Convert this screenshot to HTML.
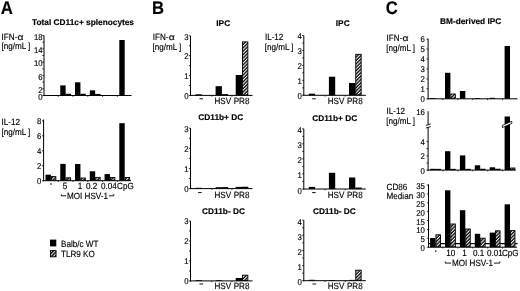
<!DOCTYPE html>
<html><head><meta charset="utf-8"><style>
html,body{margin:0;padding:0;background:#fff;width:520px;height:291px;overflow:hidden}
svg{display:block;filter:blur(0.3px)}
text{font-family:"Liberation Sans",sans-serif;fill:#000;stroke:#000;stroke-width:0.15px;text-rendering:geometricPrecision}
</style></head><body>
<svg width="520" height="291" viewBox="0 0 520 291">
<defs>
<pattern id="hatch" patternUnits="userSpaceOnUse" width="2.4" height="2.4" patternTransform="rotate(-45)">
<rect width="2.4" height="2.4" fill="#000"/><rect y="0" width="2.4" height="1.1" fill="#fff"/>
</pattern>
<pattern id="hatchL" patternUnits="userSpaceOnUse" width="2.5" height="2.5" patternTransform="translate(50.4 250.6) rotate(-45)">
<rect width="2.5" height="2.5" fill="#000"/><rect y="0.6" width="2.5" height="1.0" fill="#fff"/>
</pattern>
</defs>
<rect width="520" height="291" fill="#fff"/>
<text transform="translate(0.70 13.70) scale(0.92 1)" font-size="18.3" font-weight="bold">A</text>
<text transform="translate(151.90 13.70) scale(0.91 1)" font-size="18.3" font-weight="bold">B</text>
<text transform="translate(385.70 13.70) scale(0.91 1)" font-size="18.3" font-weight="bold">C</text>
<text x="32.00" y="24.60" font-size="8.3" font-weight="bold">Total CD11c+ splenocytes</text>
<text transform="translate(1.60 39.80) scale(0.9 1)" font-size="9.0">IFN-</text>
<text transform="translate(17.45 39.80) scale(1.2 1)" font-size="8.64">α</text>
<text transform="translate(1.50 49.40) scale(0.9 1)" font-size="9.0">[ng/mL ]</text>
<line x1="44.00" y1="35.50" x2="44.00" y2="96.00" stroke="#000" stroke-width="1.0"/>
<line x1="43.50" y1="95.50" x2="131.50" y2="95.50" stroke="#000" stroke-width="1.0"/>
<line x1="42.40" y1="95.50" x2="44.00" y2="95.50" stroke="#000" stroke-width="0.8"/>
<line x1="42.40" y1="88.83" x2="44.00" y2="88.83" stroke="#000" stroke-width="0.8"/>
<line x1="42.40" y1="82.17" x2="44.00" y2="82.17" stroke="#000" stroke-width="0.8"/>
<line x1="42.40" y1="75.50" x2="44.00" y2="75.50" stroke="#000" stroke-width="0.8"/>
<line x1="42.40" y1="68.83" x2="44.00" y2="68.83" stroke="#000" stroke-width="0.8"/>
<line x1="42.40" y1="62.17" x2="44.00" y2="62.17" stroke="#000" stroke-width="0.8"/>
<line x1="42.40" y1="55.50" x2="44.00" y2="55.50" stroke="#000" stroke-width="0.8"/>
<line x1="42.40" y1="48.83" x2="44.00" y2="48.83" stroke="#000" stroke-width="0.8"/>
<line x1="42.40" y1="42.17" x2="44.00" y2="42.17" stroke="#000" stroke-width="0.8"/>
<line x1="42.40" y1="35.50" x2="44.00" y2="35.50" stroke="#000" stroke-width="0.8"/>
<text transform="translate(42.70 99.50) scale(0.93 1)" font-size="8.4" text-anchor="end">0</text>
<text transform="translate(42.70 92.83) scale(0.93 1)" font-size="8.4" text-anchor="end">2</text>
<text transform="translate(42.70 79.50) scale(0.93 1)" font-size="8.4" text-anchor="end">6</text>
<text transform="translate(42.70 66.17) scale(0.93 1)" font-size="8.4" text-anchor="end">10</text>
<text transform="translate(42.70 52.83) scale(0.93 1)" font-size="8.4" text-anchor="end">14</text>
<text transform="translate(42.70 39.50) scale(0.93 1)" font-size="8.4" text-anchor="end">18</text>
<line x1="58.28" y1="95.50" x2="58.28" y2="96.80" stroke="#000" stroke-width="0.8"/>
<line x1="73.04" y1="95.50" x2="73.04" y2="96.80" stroke="#000" stroke-width="0.8"/>
<line x1="87.80" y1="95.50" x2="87.80" y2="96.80" stroke="#000" stroke-width="0.8"/>
<line x1="102.56" y1="95.50" x2="102.56" y2="96.80" stroke="#000" stroke-width="0.8"/>
<line x1="117.32" y1="95.50" x2="117.32" y2="96.80" stroke="#000" stroke-width="0.8"/>
<rect x="45.50" y="95.30" width="5.40" height="0.20" fill="#000"/>
<rect x="60.26" y="85.40" width="5.40" height="10.10" fill="#000"/>
<rect x="66.11" y="94.20" width="4.50" height="0.85" fill="url(#hatch)" stroke="#000" stroke-width="0.9"/>
<rect x="75.02" y="82.30" width="5.40" height="13.20" fill="#000"/>
<rect x="80.87" y="94.20" width="4.50" height="0.85" fill="url(#hatch)" stroke="#000" stroke-width="0.9"/>
<rect x="89.78" y="90.30" width="5.40" height="5.20" fill="#000"/>
<rect x="95.63" y="94.40" width="4.50" height="0.65" fill="url(#hatch)" stroke="#000" stroke-width="0.9"/>
<rect x="104.54" y="95.20" width="5.40" height="0.30" fill="#000"/>
<rect x="119.30" y="40.00" width="5.40" height="55.50" fill="#000"/>
<text transform="translate(1.60 125.30) scale(0.9 1)" font-size="9.0">IL-12</text>
<text transform="translate(1.50 135.00) scale(0.9 1)" font-size="9.0">[ng/mL ]</text>
<line x1="43.60" y1="119.50" x2="43.60" y2="181.20" stroke="#000" stroke-width="1.0"/>
<line x1="43.10" y1="180.70" x2="131.00" y2="180.70" stroke="#000" stroke-width="1.0"/>
<line x1="42.00" y1="180.70" x2="43.60" y2="180.70" stroke="#000" stroke-width="0.8"/>
<line x1="42.00" y1="165.72" x2="43.60" y2="165.72" stroke="#000" stroke-width="0.8"/>
<line x1="42.00" y1="150.75" x2="43.60" y2="150.75" stroke="#000" stroke-width="0.8"/>
<line x1="42.00" y1="135.77" x2="43.60" y2="135.77" stroke="#000" stroke-width="0.8"/>
<line x1="42.00" y1="120.80" x2="43.60" y2="120.80" stroke="#000" stroke-width="0.8"/>
<text transform="translate(41.30 184.10) scale(0.93 1)" font-size="8.4" text-anchor="end">0</text>
<text transform="translate(41.30 169.12) scale(0.93 1)" font-size="8.4" text-anchor="end">2</text>
<text transform="translate(41.30 154.15) scale(0.93 1)" font-size="8.4" text-anchor="end">4</text>
<text transform="translate(41.30 139.17) scale(0.93 1)" font-size="8.4" text-anchor="end">6</text>
<text transform="translate(41.30 124.20) scale(0.93 1)" font-size="8.4" text-anchor="end">8</text>
<line x1="58.28" y1="180.70" x2="58.28" y2="182.00" stroke="#000" stroke-width="0.8"/>
<line x1="73.04" y1="180.70" x2="73.04" y2="182.00" stroke="#000" stroke-width="0.8"/>
<line x1="87.80" y1="180.70" x2="87.80" y2="182.00" stroke="#000" stroke-width="0.8"/>
<line x1="102.56" y1="180.70" x2="102.56" y2="182.00" stroke="#000" stroke-width="0.8"/>
<line x1="117.32" y1="180.70" x2="117.32" y2="182.00" stroke="#000" stroke-width="0.8"/>
<rect x="45.50" y="174.70" width="5.40" height="6.00" fill="#000"/>
<rect x="51.35" y="176.60" width="4.50" height="3.65" fill="url(#hatch)" stroke="#000" stroke-width="0.9"/>
<rect x="60.26" y="163.90" width="5.40" height="16.80" fill="#000"/>
<rect x="66.11" y="177.80" width="4.50" height="2.45" fill="url(#hatch)" stroke="#000" stroke-width="0.9"/>
<rect x="75.02" y="164.00" width="5.40" height="16.70" fill="#000"/>
<rect x="80.87" y="178.00" width="4.50" height="2.25" fill="url(#hatch)" stroke="#000" stroke-width="0.9"/>
<rect x="89.78" y="171.30" width="5.40" height="9.40" fill="#000"/>
<rect x="95.63" y="177.40" width="4.50" height="2.85" fill="url(#hatch)" stroke="#000" stroke-width="0.9"/>
<rect x="104.54" y="174.10" width="5.40" height="6.60" fill="#000"/>
<rect x="110.39" y="177.50" width="4.50" height="2.75" fill="url(#hatch)" stroke="#000" stroke-width="0.9"/>
<rect x="119.30" y="123.20" width="5.40" height="57.50" fill="#000"/>
<rect x="125.15" y="177.50" width="4.50" height="2.75" fill="url(#hatch)" stroke="#000" stroke-width="0.9"/>
<rect x="50.20" y="183.30" width="1.6" height="1.4" fill="#333"/>
<text transform="translate(65.00 188.60) scale(0.9 1)" font-size="9.0" text-anchor="middle">5</text>
<text transform="translate(79.90 188.60) scale(0.9 1)" font-size="9.0" text-anchor="middle">1</text>
<text transform="translate(91.70 188.60) scale(0.9 1)" font-size="9.0" text-anchor="middle">0.2</text>
<text transform="translate(109.00 188.60) scale(0.9 1)" font-size="9.0" text-anchor="middle">0.04</text>
<text transform="translate(125.40 188.60) scale(0.9 1)" font-size="9.0" text-anchor="middle">CpG</text>
<text transform="translate(67.07 198.90) scale(0.9 1)" font-size="9.0">MOI HSV-1</text>
<path d="M61.30,194.20 L61.30,195.80 L66.17,195.80" fill="none" stroke="#000" stroke-width="0.9"/>
<path d="M108.93,195.80 L113.80,195.80 L113.80,194.20" fill="none" stroke="#000" stroke-width="0.9"/>
<rect x="50.00" y="239.60" width="6.30" height="6.80" fill="#000"/>
<rect x="50.45" y="250.6" width="5.6" height="6.2" fill="url(#hatchL)" stroke="#000" stroke-width="0.9"/>
<text transform="translate(61.00 246.70) scale(0.9 1)" font-size="9.0">Balb/c WT</text>
<text transform="translate(61.00 257.00) scale(0.9 1)" font-size="9.0">TLR9 KO</text>
<text x="216.30" y="26.40" font-size="8.3" font-weight="bold">IPC</text>
<text x="335.80" y="26.40" font-size="8.3" font-weight="bold">IPC</text>
<text x="198.30" y="120.30" font-size="8.3" font-weight="bold">CD11b+ DC</text>
<text x="312.20" y="120.50" font-size="8.3" font-weight="bold">CD11b+ DC</text>
<text x="202.10" y="214.40" font-size="8.3" font-weight="bold">CD11b- DC</text>
<text x="312.90" y="214.40" font-size="8.3" font-weight="bold">CD11b- DC</text>
<text transform="translate(152.80 40.00) scale(0.9 1)" font-size="9.0">IFN-</text>
<text transform="translate(168.65 40.00) scale(1.2 1)" font-size="8.64">α</text>
<text transform="translate(152.50 50.20) scale(0.9 1)" font-size="9.0">[ng/mL ]</text>
<text transform="translate(264.90 40.00) scale(0.9 1)" font-size="9.0">IL-12</text>
<text transform="translate(264.80 50.20) scale(0.9 1)" font-size="9.0">[ng/mL ]</text>
<line x1="190.50" y1="35.80" x2="190.50" y2="95.90" stroke="#000" stroke-width="1.0"/>
<line x1="190.00" y1="95.40" x2="252.50" y2="95.40" stroke="#000" stroke-width="1.0"/>
<line x1="188.90" y1="95.40" x2="190.50" y2="95.40" stroke="#000" stroke-width="0.8"/>
<line x1="188.90" y1="85.47" x2="190.50" y2="85.47" stroke="#000" stroke-width="0.8"/>
<line x1="188.90" y1="75.53" x2="190.50" y2="75.53" stroke="#000" stroke-width="0.8"/>
<line x1="188.90" y1="65.60" x2="190.50" y2="65.60" stroke="#000" stroke-width="0.8"/>
<line x1="188.90" y1="55.67" x2="190.50" y2="55.67" stroke="#000" stroke-width="0.8"/>
<line x1="188.90" y1="45.73" x2="190.50" y2="45.73" stroke="#000" stroke-width="0.8"/>
<line x1="188.90" y1="35.80" x2="190.50" y2="35.80" stroke="#000" stroke-width="0.8"/>
<text transform="translate(188.50 99.14) scale(0.93 1)" font-size="8.4" text-anchor="end">0</text>
<text transform="translate(188.50 79.27) scale(0.93 1)" font-size="8.4" text-anchor="end">1</text>
<text transform="translate(188.50 59.41) scale(0.93 1)" font-size="8.4" text-anchor="end">2</text>
<text transform="translate(188.50 39.54) scale(0.93 1)" font-size="8.4" text-anchor="end">3</text>
<line x1="211.85" y1="95.40" x2="211.85" y2="96.70" stroke="#000" stroke-width="0.8"/>
<line x1="231.95" y1="95.40" x2="231.95" y2="96.70" stroke="#000" stroke-width="0.8"/>
<rect x="195.50" y="94.30" width="6.30" height="1.10" fill="#000"/>
<rect x="215.60" y="86.20" width="6.30" height="9.20" fill="#000"/>
<rect x="222.35" y="94.60" width="5.40" height="0.35" fill="url(#hatch)" stroke="#000" stroke-width="0.9"/>
<rect x="235.70" y="75.00" width="6.30" height="20.40" fill="#000"/>
<rect x="242.45" y="41.90" width="5.40" height="53.05" fill="url(#hatch)" stroke="#000" stroke-width="0.9"/>
<rect x="199.45" y="98.30" width="3.6" height="1.0" fill="#111"/>
<text transform="translate(222.80 103.80) scale(0.9 1)" font-size="9.0" text-anchor="middle">HSV</text>
<text transform="translate(241.50 103.80) scale(0.9 1)" font-size="9.0" text-anchor="middle">PR8</text>
<line x1="303.80" y1="35.50" x2="303.80" y2="95.80" stroke="#000" stroke-width="1.0"/>
<line x1="303.30" y1="95.30" x2="365.80" y2="95.30" stroke="#000" stroke-width="1.0"/>
<line x1="302.20" y1="95.30" x2="303.80" y2="95.30" stroke="#000" stroke-width="0.8"/>
<line x1="302.20" y1="87.83" x2="303.80" y2="87.83" stroke="#000" stroke-width="0.8"/>
<line x1="302.20" y1="80.35" x2="303.80" y2="80.35" stroke="#000" stroke-width="0.8"/>
<line x1="302.20" y1="72.88" x2="303.80" y2="72.88" stroke="#000" stroke-width="0.8"/>
<line x1="302.20" y1="65.40" x2="303.80" y2="65.40" stroke="#000" stroke-width="0.8"/>
<line x1="302.20" y1="57.92" x2="303.80" y2="57.92" stroke="#000" stroke-width="0.8"/>
<line x1="302.20" y1="50.45" x2="303.80" y2="50.45" stroke="#000" stroke-width="0.8"/>
<line x1="302.20" y1="42.98" x2="303.80" y2="42.98" stroke="#000" stroke-width="0.8"/>
<line x1="302.20" y1="35.50" x2="303.80" y2="35.50" stroke="#000" stroke-width="0.8"/>
<text transform="translate(301.80 98.94) scale(0.93 1)" font-size="8.4" text-anchor="end">0</text>
<text transform="translate(301.80 83.99) scale(0.93 1)" font-size="8.4" text-anchor="end">1</text>
<text transform="translate(301.80 69.04) scale(0.93 1)" font-size="8.4" text-anchor="end">2</text>
<text transform="translate(301.80 54.09) scale(0.93 1)" font-size="8.4" text-anchor="end">3</text>
<text transform="translate(301.80 39.14) scale(0.93 1)" font-size="8.4" text-anchor="end">4</text>
<line x1="325.15" y1="95.30" x2="325.15" y2="96.60" stroke="#000" stroke-width="0.8"/>
<line x1="345.25" y1="95.30" x2="345.25" y2="96.60" stroke="#000" stroke-width="0.8"/>
<rect x="308.80" y="93.70" width="6.30" height="1.60" fill="#000"/>
<rect x="328.90" y="76.70" width="6.30" height="18.60" fill="#000"/>
<rect x="349.00" y="83.00" width="6.30" height="12.30" fill="#000"/>
<rect x="355.75" y="54.30" width="5.40" height="40.55" fill="url(#hatch)" stroke="#000" stroke-width="0.9"/>
<rect x="312.20" y="98.30" width="3.6" height="1.0" fill="#111"/>
<text transform="translate(336.10 103.80) scale(0.9 1)" font-size="9.0" text-anchor="middle">HSV</text>
<text transform="translate(354.80 103.80) scale(0.9 1)" font-size="9.0" text-anchor="middle">PR8</text>
<line x1="190.50" y1="128.20" x2="190.50" y2="189.10" stroke="#000" stroke-width="1.0"/>
<line x1="190.00" y1="188.60" x2="252.50" y2="188.60" stroke="#000" stroke-width="1.0"/>
<line x1="188.90" y1="188.60" x2="190.50" y2="188.60" stroke="#000" stroke-width="0.8"/>
<line x1="188.90" y1="178.53" x2="190.50" y2="178.53" stroke="#000" stroke-width="0.8"/>
<line x1="188.90" y1="168.47" x2="190.50" y2="168.47" stroke="#000" stroke-width="0.8"/>
<line x1="188.90" y1="158.40" x2="190.50" y2="158.40" stroke="#000" stroke-width="0.8"/>
<line x1="188.90" y1="148.33" x2="190.50" y2="148.33" stroke="#000" stroke-width="0.8"/>
<line x1="188.90" y1="138.27" x2="190.50" y2="138.27" stroke="#000" stroke-width="0.8"/>
<line x1="188.90" y1="128.20" x2="190.50" y2="128.20" stroke="#000" stroke-width="0.8"/>
<text transform="translate(188.50 192.04) scale(0.93 1)" font-size="8.4" text-anchor="end">0</text>
<text transform="translate(188.50 171.91) scale(0.93 1)" font-size="8.4" text-anchor="end">1</text>
<text transform="translate(188.50 151.77) scale(0.93 1)" font-size="8.4" text-anchor="end">2</text>
<text transform="translate(188.50 131.64) scale(0.93 1)" font-size="8.4" text-anchor="end">3</text>
<line x1="211.85" y1="188.60" x2="211.85" y2="189.90" stroke="#000" stroke-width="0.8"/>
<line x1="231.95" y1="188.60" x2="231.95" y2="189.90" stroke="#000" stroke-width="0.8"/>
<rect x="195.50" y="187.80" width="6.30" height="0.80" fill="#000"/>
<rect x="215.60" y="187.20" width="6.30" height="1.40" fill="#000"/>
<rect x="222.35" y="187.60" width="5.40" height="0.55" fill="url(#hatch)" stroke="#000" stroke-width="0.9"/>
<rect x="235.70" y="186.90" width="6.30" height="1.70" fill="#000"/>
<rect x="242.45" y="187.20" width="5.40" height="0.95" fill="url(#hatch)" stroke="#000" stroke-width="0.9"/>
<rect x="198.10" y="192.10" width="3.6" height="1.0" fill="#111"/>
<text transform="translate(222.80 197.60) scale(0.9 1)" font-size="9.0" text-anchor="middle">HSV</text>
<text transform="translate(241.50 197.60) scale(0.9 1)" font-size="9.0" text-anchor="middle">PR8</text>
<line x1="303.80" y1="128.80" x2="303.80" y2="189.50" stroke="#000" stroke-width="1.0"/>
<line x1="303.30" y1="189.00" x2="365.80" y2="189.00" stroke="#000" stroke-width="1.0"/>
<line x1="302.20" y1="189.00" x2="303.80" y2="189.00" stroke="#000" stroke-width="0.8"/>
<line x1="302.20" y1="181.47" x2="303.80" y2="181.47" stroke="#000" stroke-width="0.8"/>
<line x1="302.20" y1="173.95" x2="303.80" y2="173.95" stroke="#000" stroke-width="0.8"/>
<line x1="302.20" y1="166.43" x2="303.80" y2="166.43" stroke="#000" stroke-width="0.8"/>
<line x1="302.20" y1="158.90" x2="303.80" y2="158.90" stroke="#000" stroke-width="0.8"/>
<line x1="302.20" y1="151.38" x2="303.80" y2="151.38" stroke="#000" stroke-width="0.8"/>
<line x1="302.20" y1="143.85" x2="303.80" y2="143.85" stroke="#000" stroke-width="0.8"/>
<line x1="302.20" y1="136.33" x2="303.80" y2="136.33" stroke="#000" stroke-width="0.8"/>
<line x1="302.20" y1="128.80" x2="303.80" y2="128.80" stroke="#000" stroke-width="0.8"/>
<text transform="translate(301.80 193.54) scale(0.93 1)" font-size="8.4" text-anchor="end">0</text>
<text transform="translate(301.80 178.49) scale(0.93 1)" font-size="8.4" text-anchor="end">1</text>
<text transform="translate(301.80 163.44) scale(0.93 1)" font-size="8.4" text-anchor="end">2</text>
<text transform="translate(301.80 148.39) scale(0.93 1)" font-size="8.4" text-anchor="end">3</text>
<text transform="translate(301.80 133.34) scale(0.93 1)" font-size="8.4" text-anchor="end">4</text>
<line x1="325.15" y1="189.00" x2="325.15" y2="190.30" stroke="#000" stroke-width="0.8"/>
<line x1="345.25" y1="189.00" x2="345.25" y2="190.30" stroke="#000" stroke-width="0.8"/>
<rect x="308.80" y="186.90" width="6.30" height="2.10" fill="#000"/>
<rect x="328.90" y="172.80" width="6.30" height="16.20" fill="#000"/>
<rect x="349.00" y="177.50" width="6.30" height="11.50" fill="#000"/>
<rect x="355.75" y="188.00" width="5.40" height="0.55" fill="url(#hatch)" stroke="#000" stroke-width="0.9"/>
<rect x="312.10" y="192.10" width="3.6" height="1.0" fill="#111"/>
<text transform="translate(336.10 197.60) scale(0.9 1)" font-size="9.0" text-anchor="middle">HSV</text>
<text transform="translate(354.80 197.60) scale(0.9 1)" font-size="9.0" text-anchor="middle">PR8</text>
<line x1="190.50" y1="221.00" x2="190.50" y2="281.40" stroke="#000" stroke-width="1.0"/>
<line x1="190.00" y1="280.90" x2="252.50" y2="280.90" stroke="#000" stroke-width="1.0"/>
<line x1="188.90" y1="280.90" x2="190.50" y2="280.90" stroke="#000" stroke-width="0.8"/>
<line x1="188.90" y1="270.92" x2="190.50" y2="270.92" stroke="#000" stroke-width="0.8"/>
<line x1="188.90" y1="260.93" x2="190.50" y2="260.93" stroke="#000" stroke-width="0.8"/>
<line x1="188.90" y1="250.95" x2="190.50" y2="250.95" stroke="#000" stroke-width="0.8"/>
<line x1="188.90" y1="240.97" x2="190.50" y2="240.97" stroke="#000" stroke-width="0.8"/>
<line x1="188.90" y1="230.98" x2="190.50" y2="230.98" stroke="#000" stroke-width="0.8"/>
<line x1="188.90" y1="221.00" x2="190.50" y2="221.00" stroke="#000" stroke-width="0.8"/>
<text transform="translate(188.50 284.34) scale(0.93 1)" font-size="8.4" text-anchor="end">0</text>
<text transform="translate(188.50 264.37) scale(0.93 1)" font-size="8.4" text-anchor="end">1</text>
<text transform="translate(188.50 244.41) scale(0.93 1)" font-size="8.4" text-anchor="end">2</text>
<text transform="translate(188.50 224.44) scale(0.93 1)" font-size="8.4" text-anchor="end">3</text>
<line x1="211.85" y1="280.90" x2="211.85" y2="282.20" stroke="#000" stroke-width="0.8"/>
<line x1="231.95" y1="280.90" x2="231.95" y2="282.20" stroke="#000" stroke-width="0.8"/>
<rect x="195.50" y="280.10" width="6.30" height="0.80" fill="#000"/>
<rect x="215.60" y="280.20" width="6.30" height="0.70" fill="#000"/>
<rect x="235.70" y="278.00" width="6.30" height="2.90" fill="#000"/>
<rect x="242.45" y="275.20" width="5.40" height="5.25" fill="url(#hatch)" stroke="#000" stroke-width="0.9"/>
<rect x="199.45" y="283.50" width="3.6" height="1.0" fill="#111"/>
<text transform="translate(222.80 289.00) scale(0.9 1)" font-size="9.0" text-anchor="middle">HSV</text>
<text transform="translate(241.50 289.00) scale(0.9 1)" font-size="9.0" text-anchor="middle">PR8</text>
<line x1="303.80" y1="220.20" x2="303.80" y2="281.20" stroke="#000" stroke-width="1.0"/>
<line x1="303.30" y1="280.70" x2="365.80" y2="280.70" stroke="#000" stroke-width="1.0"/>
<line x1="302.20" y1="280.70" x2="303.80" y2="280.70" stroke="#000" stroke-width="0.8"/>
<line x1="302.20" y1="273.14" x2="303.80" y2="273.14" stroke="#000" stroke-width="0.8"/>
<line x1="302.20" y1="265.57" x2="303.80" y2="265.57" stroke="#000" stroke-width="0.8"/>
<line x1="302.20" y1="258.01" x2="303.80" y2="258.01" stroke="#000" stroke-width="0.8"/>
<line x1="302.20" y1="250.45" x2="303.80" y2="250.45" stroke="#000" stroke-width="0.8"/>
<line x1="302.20" y1="242.89" x2="303.80" y2="242.89" stroke="#000" stroke-width="0.8"/>
<line x1="302.20" y1="235.32" x2="303.80" y2="235.32" stroke="#000" stroke-width="0.8"/>
<line x1="302.20" y1="227.76" x2="303.80" y2="227.76" stroke="#000" stroke-width="0.8"/>
<line x1="302.20" y1="220.20" x2="303.80" y2="220.20" stroke="#000" stroke-width="0.8"/>
<text transform="translate(301.80 285.04) scale(0.93 1)" font-size="8.4" text-anchor="end">0</text>
<text transform="translate(301.80 269.91) scale(0.93 1)" font-size="8.4" text-anchor="end">1</text>
<text transform="translate(301.80 254.79) scale(0.93 1)" font-size="8.4" text-anchor="end">2</text>
<text transform="translate(301.80 239.66) scale(0.93 1)" font-size="8.4" text-anchor="end">3</text>
<text transform="translate(301.80 224.54) scale(0.93 1)" font-size="8.4" text-anchor="end">4</text>
<line x1="325.15" y1="280.70" x2="325.15" y2="282.00" stroke="#000" stroke-width="0.8"/>
<line x1="345.25" y1="280.70" x2="345.25" y2="282.00" stroke="#000" stroke-width="0.8"/>
<rect x="308.80" y="279.80" width="6.30" height="0.90" fill="#000"/>
<rect x="328.90" y="280.00" width="6.30" height="0.70" fill="#000"/>
<rect x="349.00" y="279.90" width="6.30" height="0.80" fill="#000"/>
<rect x="355.75" y="270.20" width="5.40" height="10.05" fill="url(#hatch)" stroke="#000" stroke-width="0.9"/>
<rect x="312.50" y="283.50" width="3.6" height="1.0" fill="#111"/>
<text transform="translate(336.10 289.00) scale(0.9 1)" font-size="9.0" text-anchor="middle">HSV</text>
<text transform="translate(354.80 289.00) scale(0.9 1)" font-size="9.0" text-anchor="middle">PR8</text>
<text x="440.00" y="24.40" font-size="8.3" font-weight="bold">BM-derived IPC</text>
<text transform="translate(386.60 41.00) scale(0.9 1)" font-size="9.0">IFN-</text>
<text transform="translate(402.45 41.00) scale(1.2 1)" font-size="8.64">α</text>
<text transform="translate(386.30 50.80) scale(0.9 1)" font-size="9.0">[ng/mL ]</text>
<line x1="428.10" y1="38.60" x2="428.10" y2="99.30" stroke="#000" stroke-width="1.0"/>
<line x1="427.60" y1="98.80" x2="517.50" y2="98.80" stroke="#000" stroke-width="1.0"/>
<line x1="426.50" y1="98.80" x2="428.10" y2="98.80" stroke="#000" stroke-width="0.8"/>
<line x1="426.50" y1="88.85" x2="428.10" y2="88.85" stroke="#000" stroke-width="0.8"/>
<line x1="426.50" y1="78.90" x2="428.10" y2="78.90" stroke="#000" stroke-width="0.8"/>
<line x1="426.50" y1="68.95" x2="428.10" y2="68.95" stroke="#000" stroke-width="0.8"/>
<line x1="426.50" y1="59.00" x2="428.10" y2="59.00" stroke="#000" stroke-width="0.8"/>
<line x1="426.50" y1="49.05" x2="428.10" y2="49.05" stroke="#000" stroke-width="0.8"/>
<line x1="426.50" y1="39.10" x2="428.10" y2="39.10" stroke="#000" stroke-width="0.8"/>
<text transform="translate(424.90 102.14) scale(0.93 1)" font-size="8.4" text-anchor="end">0</text>
<text transform="translate(424.90 92.19) scale(0.93 1)" font-size="8.4" text-anchor="end">1</text>
<text transform="translate(424.90 82.24) scale(0.93 1)" font-size="8.4" text-anchor="end">2</text>
<text transform="translate(424.90 72.29) scale(0.93 1)" font-size="8.4" text-anchor="end">3</text>
<text transform="translate(424.90 62.34) scale(0.93 1)" font-size="8.4" text-anchor="end">4</text>
<text transform="translate(424.90 52.39) scale(0.93 1)" font-size="8.4" text-anchor="end">5</text>
<text transform="translate(424.90 42.44) scale(0.93 1)" font-size="8.4" text-anchor="end">6</text>
<line x1="442.95" y1="98.80" x2="442.95" y2="100.10" stroke="#000" stroke-width="0.8"/>
<line x1="457.85" y1="98.80" x2="457.85" y2="100.10" stroke="#000" stroke-width="0.8"/>
<line x1="472.75" y1="98.80" x2="472.75" y2="100.10" stroke="#000" stroke-width="0.8"/>
<line x1="487.65" y1="98.80" x2="487.65" y2="100.10" stroke="#000" stroke-width="0.8"/>
<line x1="502.55" y1="98.80" x2="502.55" y2="100.10" stroke="#000" stroke-width="0.8"/>
<rect x="430.10" y="98.00" width="5.40" height="0.80" fill="#000"/>
<rect x="445.00" y="72.80" width="5.40" height="26.00" fill="#000"/>
<rect x="450.85" y="94.00" width="4.50" height="4.35" fill="url(#hatch)" stroke="#000" stroke-width="0.9"/>
<rect x="459.90" y="91.00" width="5.40" height="7.80" fill="#000"/>
<rect x="474.80" y="98.00" width="5.40" height="0.80" fill="#000"/>
<rect x="489.70" y="97.80" width="5.40" height="1.00" fill="#000"/>
<rect x="504.60" y="46.00" width="5.40" height="52.80" fill="#000"/>
<text transform="translate(386.60 114.10) scale(0.9 1)" font-size="9.0">IL-12</text>
<text transform="translate(386.30 123.90) scale(0.9 1)" font-size="9.0">[ng/mL ]</text>
<line x1="428.10" y1="111.20" x2="428.10" y2="124.40" stroke="#000" stroke-width="1.0"/>
<line x1="428.10" y1="127.40" x2="428.10" y2="170.60" stroke="#000" stroke-width="1.0"/>
<line x1="425.90" y1="125.40" x2="430.70" y2="124.00" stroke="#000" stroke-width="0.9"/>
<line x1="425.90" y1="128.00" x2="430.70" y2="126.60" stroke="#000" stroke-width="0.9"/>
<line x1="427.60" y1="170.10" x2="515.70" y2="170.10" stroke="#000" stroke-width="1.0"/>
<line x1="426.50" y1="170.10" x2="428.10" y2="170.10" stroke="#000" stroke-width="0.8"/>
<line x1="426.50" y1="162.95" x2="428.10" y2="162.95" stroke="#000" stroke-width="0.8"/>
<line x1="426.50" y1="155.80" x2="428.10" y2="155.80" stroke="#000" stroke-width="0.8"/>
<line x1="426.50" y1="148.65" x2="428.10" y2="148.65" stroke="#000" stroke-width="0.8"/>
<line x1="426.50" y1="141.50" x2="428.10" y2="141.50" stroke="#000" stroke-width="0.8"/>
<text transform="translate(424.90 173.64) scale(0.93 1)" font-size="8.4" text-anchor="end">0</text>
<text transform="translate(424.90 159.34) scale(0.93 1)" font-size="8.4" text-anchor="end">2</text>
<text transform="translate(424.90 145.04) scale(0.93 1)" font-size="8.4" text-anchor="end">4</text>
<line x1="442.95" y1="170.10" x2="442.95" y2="171.40" stroke="#000" stroke-width="0.8"/>
<line x1="457.85" y1="170.10" x2="457.85" y2="171.40" stroke="#000" stroke-width="0.8"/>
<line x1="472.75" y1="170.10" x2="472.75" y2="171.40" stroke="#000" stroke-width="0.8"/>
<line x1="487.65" y1="170.10" x2="487.65" y2="171.40" stroke="#000" stroke-width="0.8"/>
<line x1="502.55" y1="170.10" x2="502.55" y2="171.40" stroke="#000" stroke-width="0.8"/>
<rect x="430.10" y="168.80" width="5.40" height="1.30" fill="#000"/>
<rect x="435.95" y="169.30" width="4.50" height="0.35" fill="url(#hatch)" stroke="#000" stroke-width="0.9"/>
<rect x="445.00" y="151.20" width="5.40" height="18.90" fill="#000"/>
<rect x="450.85" y="169.30" width="4.50" height="0.35" fill="url(#hatch)" stroke="#000" stroke-width="0.9"/>
<rect x="459.90" y="155.40" width="5.40" height="14.70" fill="#000"/>
<rect x="465.75" y="169.30" width="4.50" height="0.35" fill="url(#hatch)" stroke="#000" stroke-width="0.9"/>
<rect x="474.80" y="165.30" width="5.40" height="4.80" fill="#000"/>
<rect x="480.65" y="169.20" width="4.50" height="0.45" fill="url(#hatch)" stroke="#000" stroke-width="0.9"/>
<rect x="489.70" y="167.30" width="5.40" height="2.80" fill="#000"/>
<rect x="495.55" y="169.20" width="4.50" height="0.45" fill="url(#hatch)" stroke="#000" stroke-width="0.9"/>
<rect x="504.60" y="116.50" width="5.40" height="53.60" fill="#000"/>
<rect x="510.45" y="168.00" width="4.50" height="1.65" fill="url(#hatch)" stroke="#000" stroke-width="0.9"/>
<text transform="translate(424.90 115.14) scale(0.93 1)" font-size="8.4" text-anchor="end">16</text>
<polygon points="502.40,125.3 511.80,121.3 511.80,123.5 502.40,127.5" fill="#fff" stroke="#000" stroke-width="0.8"/>
<line x1="429" y1="243.6" x2="517.6" y2="243.6" stroke="#000" stroke-width="1.1"/>
<text transform="translate(386.60 189.50) scale(0.9 1)" font-size="9.0">CD86</text>
<text transform="translate(386.60 198.80) scale(0.9 1)" font-size="9.0">Median</text>
<line x1="428.50" y1="184.40" x2="428.50" y2="247.70" stroke="#000" stroke-width="1.0"/>
<line x1="428.00" y1="247.20" x2="517.00" y2="247.20" stroke="#000" stroke-width="1.0"/>
<line x1="426.90" y1="247.20" x2="428.50" y2="247.20" stroke="#000" stroke-width="0.8"/>
<line x1="426.90" y1="238.32" x2="428.50" y2="238.32" stroke="#000" stroke-width="0.8"/>
<line x1="426.90" y1="229.44" x2="428.50" y2="229.44" stroke="#000" stroke-width="0.8"/>
<line x1="426.90" y1="220.56" x2="428.50" y2="220.56" stroke="#000" stroke-width="0.8"/>
<line x1="426.90" y1="211.68" x2="428.50" y2="211.68" stroke="#000" stroke-width="0.8"/>
<line x1="426.90" y1="202.80" x2="428.50" y2="202.80" stroke="#000" stroke-width="0.8"/>
<line x1="426.90" y1="193.92" x2="428.50" y2="193.92" stroke="#000" stroke-width="0.8"/>
<line x1="426.90" y1="185.04" x2="428.50" y2="185.04" stroke="#000" stroke-width="0.8"/>
<text transform="translate(424.90 251.24) scale(0.93 1)" font-size="8.4" text-anchor="end">0</text>
<text transform="translate(424.90 242.36) scale(0.93 1)" font-size="8.4" text-anchor="end">5</text>
<text transform="translate(424.90 233.48) scale(0.93 1)" font-size="8.4" text-anchor="end">10</text>
<text transform="translate(424.90 224.60) scale(0.93 1)" font-size="8.4" text-anchor="end">15</text>
<text transform="translate(424.90 215.72) scale(0.93 1)" font-size="8.4" text-anchor="end">20</text>
<text transform="translate(424.90 206.84) scale(0.93 1)" font-size="8.4" text-anchor="end">25</text>
<text transform="translate(424.90 197.96) scale(0.93 1)" font-size="8.4" text-anchor="end">30</text>
<text transform="translate(424.90 189.08) scale(0.93 1)" font-size="8.4" text-anchor="end">35</text>
<line x1="442.95" y1="247.20" x2="442.95" y2="248.50" stroke="#000" stroke-width="0.8"/>
<line x1="457.85" y1="247.20" x2="457.85" y2="248.50" stroke="#000" stroke-width="0.8"/>
<line x1="472.75" y1="247.20" x2="472.75" y2="248.50" stroke="#000" stroke-width="0.8"/>
<line x1="487.65" y1="247.20" x2="487.65" y2="248.50" stroke="#000" stroke-width="0.8"/>
<line x1="502.55" y1="247.20" x2="502.55" y2="248.50" stroke="#000" stroke-width="0.8"/>
<rect x="430.10" y="238.00" width="5.40" height="9.20" fill="#000"/>
<rect x="435.95" y="234.80" width="4.50" height="11.95" fill="url(#hatch)" stroke="#000" stroke-width="0.9"/>
<rect x="445.00" y="190.30" width="5.40" height="56.90" fill="#000"/>
<rect x="450.85" y="224.00" width="4.50" height="22.75" fill="url(#hatch)" stroke="#000" stroke-width="0.9"/>
<rect x="459.90" y="210.20" width="5.40" height="37.00" fill="#000"/>
<rect x="465.75" y="229.00" width="4.50" height="17.75" fill="url(#hatch)" stroke="#000" stroke-width="0.9"/>
<rect x="474.80" y="233.80" width="5.40" height="13.40" fill="#000"/>
<rect x="480.65" y="238.20" width="4.50" height="8.55" fill="url(#hatch)" stroke="#000" stroke-width="0.9"/>
<rect x="489.70" y="232.60" width="5.40" height="14.60" fill="#000"/>
<rect x="495.55" y="230.80" width="4.50" height="15.95" fill="url(#hatch)" stroke="#000" stroke-width="0.9"/>
<rect x="504.60" y="204.30" width="5.40" height="42.90" fill="#000"/>
<rect x="510.45" y="230.60" width="4.50" height="16.15" fill="url(#hatch)" stroke="#000" stroke-width="0.9"/>
<rect x="434.90" y="250.40" width="1.6" height="1.4" fill="#333"/>
<text transform="translate(450.80 255.70) scale(0.9 1)" font-size="9.0" text-anchor="middle">10</text>
<text transform="translate(464.40 255.70) scale(0.9 1)" font-size="9.0" text-anchor="middle">1</text>
<text transform="translate(478.70 255.70) scale(0.9 1)" font-size="9.0" text-anchor="middle">0.1</text>
<text transform="translate(495.00 255.70) scale(0.9 1)" font-size="9.0" text-anchor="middle">0.01</text>
<text transform="translate(510.30 255.70) scale(0.9 1)" font-size="9.0" text-anchor="middle">CpG</text>
<text transform="translate(452.07 265.80) scale(0.9 1)" font-size="9.0">MOI HSV-1</text>
<path d="M445.30,261.50 L445.30,263.10 L451.17,263.10" fill="none" stroke="#000" stroke-width="0.9"/>
<path d="M493.93,263.10 L499.80,263.10 L499.80,261.50" fill="none" stroke="#000" stroke-width="0.9"/>
</svg>
</body></html>
